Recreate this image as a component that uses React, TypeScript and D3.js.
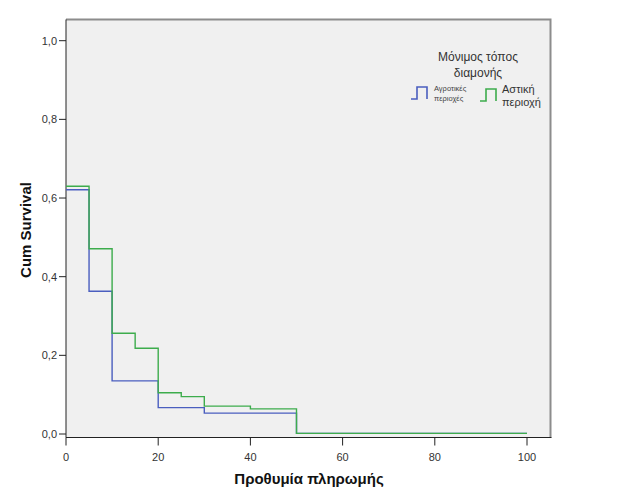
import React from "react";
import * as d3 from "d3";

// Step data: times where each step begins, and survival level after each step
const ruralTimes = [0, 5, 10, 20, 30, 50, 100];
const ruralSurv = [0.621, 0.363, 0.135, 0.067, 0.053, 0.0015, 0.0015];
const urbanTimes = [0, 5, 10, 15, 20, 25, 30, 40, 50, 100];
const urbanSurv = [0.63, 0.471, 0.256, 0.218, 0.105, 0.095, 0.071, 0.064, 0.0015, 0.0015];

const xTicks = [0, 20, 40, 60, 80, 100];
const yTicks = [0, 0.2, 0.4, 0.6, 0.8, 1.0];

const seriesNames = ["Αγροτικές περιοχές", "Αστική περιοχή"];
const legendTitle = ["Μόνιμος τόπος", "διαμονής"];
const xLabel = "Προθυμία πληρωμής";
const yLabel = "Cum Survival";

const BLUE = "#4a5ebf";
const GREEN = "#3dac4c";

export default function App() {
  const W = 625, H = 500;
  const left = 66, right = 550.5, top = 19.5, bottom = 437.5;
  const x = d3.scaleLinear().domain([0, 100]).range([66, 527]);
  const y = d3.scaleLinear().domain([0, 1]).range([434, 40.7]);

  const stepLine = d3
    .line<[number, number]>()
    .x((d) => x(d[0]))
    .y((d) => y(d[1]))
    .curve(d3.curveStepAfter);

  const ruralPts: [number, number][] = ruralTimes.map((t, i) => [t, ruralSurv[i]]);
  const urbanPts: [number, number][] = urbanTimes.map((t, i) => [t, urbanSurv[i]]);

  const fmt = (v: number) => v.toFixed(1).replace(".", ",");
  const font = "Arial, 'Liberation Sans', sans-serif";

  const legendSym = (x0: number, y0: number) =>
    `M${x0},${y0 + 12} H${x0 + 6} V${y0} H${x0 + 16} V${y0 + 12}`;

  return (
    <svg
      width={W}
      height={H}
      style={{ position: "absolute", left: 0, top: 0, background: "#fff" }}
      fontFamily={font}
    >
      <rect x={left} y={top} width={right - left} height={bottom - top} fill="#f0f0f0" />
      {/* frame top & right */}
      <path
        d={`M${left},${top} H${right} V${bottom}`}
        fill="none"
        stroke="#8c8c8c"
        strokeWidth={2}
      />
      {/* axes */}
      <line x1={left} x2={right + 1} y1={bottom} y2={bottom} stroke="#222" strokeWidth={1} />
      <line x1={left} x2={left} y1={top} y2={bottom} stroke="#222" strokeWidth={1} />

      {yTicks.map((t) => (
        <g key={"y" + t}>
          <line x1={left - 7} x2={left} y1={y(t)} y2={y(t)} stroke="#222" />
          <text
            x={left - 9}
            y={y(t)}
            dy="0.35em"
            textAnchor="end"
            fontSize={11}
            fill="#333"
          >
            {fmt(t)}
          </text>
        </g>
      ))}
      {xTicks.map((t) => (
        <g key={"x" + t}>
          <line x1={x(t)} x2={x(t)} y1={bottom} y2={bottom + 8} stroke="#222" />
          <text x={x(t)} y={bottom + 23} textAnchor="middle" fontSize={11} fill="#333">
            {t}
          </text>
        </g>
      ))}

      <path d={stepLine(ruralPts) || ""} fill="none" stroke={BLUE} strokeWidth={1.4} />
      <path d={stepLine(urbanPts) || ""} fill="none" stroke={GREEN} strokeWidth={1.4} />

      {/* legend */}
      <text x={478} y={61} textAnchor="middle" fontSize={12} fill="#333">
        {legendTitle[0]}
      </text>
      <text x={478} y={77} textAnchor="middle" fontSize={12} fill="#333">
        {legendTitle[1]}
      </text>
      <path d={legendSym(411, 87)} fill="none" stroke={BLUE} strokeWidth={1.6} />
      <text x={434} y={91} fontSize={7.5} fill="#444">
        {seriesNames[0].split(" ")[0]}
      </text>
      <text x={434} y={101} fontSize={7.5} fill="#444">
        {seriesNames[0].split(" ")[1]}
      </text>
      <path d={legendSym(480, 89)} fill="none" stroke={GREEN} strokeWidth={1.6} />
      <text x={502} y={93} fontSize={11} fill="#333">
        {seriesNames[1].split(" ")[0]}
      </text>
      <text x={502} y={106} fontSize={11} fill="#333">
        {seriesNames[1].split(" ")[1]}
      </text>

      {/* axis titles */}
      <text
        transform={`translate(31,230) rotate(-90)`}
        textAnchor="middle"
        fontSize={15}
        fontWeight="bold"
        fill="#111"
      >
        {yLabel}
      </text>
      <text x={309} y={484} textAnchor="middle" fontSize={15} fontWeight="bold" fill="#111">
        {xLabel}
      </text>
    </svg>
  );
}
